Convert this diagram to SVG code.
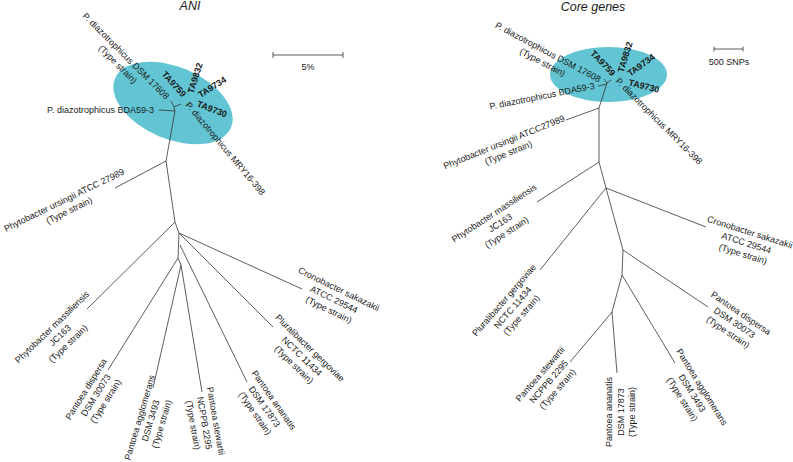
<svg xmlns="http://www.w3.org/2000/svg" width="793" height="462" viewBox="0 0 793 462">
<style>
text{font-family:"Liberation Sans",Arial,sans-serif;font-size:9px;fill:#1a1a1a}
.t{font-size:12.5px;font-style:italic}
.b{font-weight:bold}
.m{text-anchor:middle}
.br{stroke:#333;stroke-width:0.8;fill:none}
.el{fill:#63c5d3}
</style>
<rect width="793" height="462" fill="#fff"/>
<g id="highlights">
<ellipse class="el" cx="173" cy="103" rx="63" ry="36" transform="rotate(23 173 103)"/>
<ellipse class="el" cx="608.5" cy="74.5" rx="58.5" ry="27.5"/>
</g>
<g id="titles">
<text class="t m" x="190" y="10">ANI</text>
<text class="t m" x="593" y="11">Core genes</text>
</g>
<g id="scalebars" class="br">
<path d="M273 55H343M273 52V58M343 52V58"/>
<path d="M714 49H743M714 46.5V51.5M743 46.5V51.5"/>
</g>
<text class="m" x="308" y="70">5%</text>
<text class="m" x="729" y="65">500 SNPs</text>
<g id="connectors" class="br">
<path d="M171 101L174 107L181 104M174 107L175 111M159 110L175 111L166 161L175 222L179 233L178 258L181 265"/>
<path d="M166 161L115 188"/>
<path d="M175 222L87 309"/>
<path d="M179 233L302 289"/>
<path d="M180 234L273 327"/>
<path d="M180 245L247 382"/>
<path d="M178 258L108 370"/>
<path d="M181 265L153 388"/>
<path d="M181 265L202 392"/>
<path d="M604 79L607 83L611 80M598 86L607 84M607 83L599 108L599 162L606 188L623 250L622 275L612 312"/>
<path d="M566 120L599 108"/>
<path d="M599 162L537 202"/>
<path d="M606 188L540 270"/>
<path d="M606 188L706 227"/>
<path d="M623 250L708 307"/>
<path d="M612 312L570 362"/>
<path d="M612 312L617 373"/>
<path d="M622 275L675 363"/>
</g>
<g id="ani-bda"><text x="154" y="113" text-anchor="end">P. diazotrophicus BDA59-3</text></g>
<g id="ani-dsm17608" transform="translate(126 56) rotate(45)"><text class="m" y="3.2">P. diazotrophicus DSM 17608</text><text class="m" y="14.7">(Type strain)</text></g>
<g id="ani-ta9759" transform="translate(174 84) rotate(48)"><text class="m b" y="3.2">TA9759</text></g>
<g id="ani-ta9832" transform="translate(195 78) rotate(-72)"><text class="m b" y="3.2">TA9832</text></g>
<g id="ani-ta9734" transform="translate(212 87) rotate(-32)"><text class="m b" y="3.2">TA9734</text></g>
<g id="ani-ta9730" transform="translate(212 109) rotate(21)"><text class="m b" y="3.2">TA9730</text></g>
<g id="ani-mry" transform="translate(225.5 148.5) rotate(50)"><text class="m" y="3.2">P. diazotrophicus MRY16-398</text></g>
<g id="ani-ursingii" transform="translate(64 200) rotate(-26)"><text class="m" y="3.2">Phytobacter ursingii ATCC 27989</text><text class="m" y="14.7">(Type strain)</text></g>
<g id="ani-massiliensis" transform="translate(52 327) rotate(-44)"><text class="m" y="3.2">Phytobacter massiliensis</text><text class="m" y="14.7">JC163</text><text class="m" y="26.2">(Type strain)</text></g>
<g id="ani-dispersa" transform="translate(86 389) rotate(-58)"><text class="m" y="3.2">Pantoea dispersa</text><text class="m" y="14.7">DSM 30073</text><text class="m" y="26.2">(Type strain)</text></g>
<g id="ani-agglomerans" transform="translate(139.5 417.5) rotate(-73.6)"><text class="m" y="3.2">Pantoea agglomerans</text><text class="m" y="14.7">DSM 3493</text><text class="m" y="26.2">(Type strain)</text></g>
<g id="ani-stewartii" transform="translate(216 421) rotate(80)"><text class="m" y="3.2">Pantoea stewartii</text><text class="m" y="14.7">NCPPB 2295</text><text class="m" y="26.2">(Type strain)</text></g>
<g id="ani-ananatis" transform="translate(274 400) rotate(55)"><text class="m" y="3.2">Pantoea ananatis</text><text class="m" y="14.7">DSM 17873</text><text class="m" y="26.2">(Type strain)</text></g>
<g id="ani-pluralibacter" transform="translate(310 348) rotate(44)"><text class="m" y="3.2">Pluralibacter gergoviae</text><text class="m" y="14.7">NCTC 11434</text><text class="m" y="26.2">(Type strain)</text></g>
<g id="ani-cronobacter" transform="translate(339 289) rotate(26)"><text class="m" y="3.2">Cronobacter sakazakii</text><text class="m" y="14.7">ATCC 29544</text><text class="m" y="26.2">(Type strain)</text></g>
<g id="core-dsm17608" transform="translate(548 52) rotate(28)"><text class="m" y="3.2">P. diazotrophicus DSM 17608</text><text class="m" y="14.7">(Type strain)</text></g>
<g id="core-bda" transform="translate(542 96) rotate(-11.3)"><text class="m" y="3.2">P. diazotrophicus BDA59-3</text></g>
<g id="core-ta9759" transform="translate(603 63) rotate(46)"><text class="m b" y="3.2">TA9759</text></g>
<g id="core-ta9832" transform="translate(625 57) rotate(-73)"><text class="m b" y="3.2">TA9832</text></g>
<g id="core-ta9734" transform="translate(641 65) rotate(-36)"><text class="m b" y="3.2">TA9734</text></g>
<g id="core-ta9730" transform="translate(644 86) rotate(14)"><text class="m b" y="3.2">TA9730</text></g>
<g id="core-mry" transform="translate(659 121) rotate(45)"><text class="m" y="3.2">P. diazotrophicus MRY16-398</text></g>
<g id="core-ursingii" transform="translate(504 142) rotate(-22)"><text class="m" y="3.2">Phytobacter ursingii ATCC27989</text><text class="m" y="14.7">(Type strain)</text></g>
<g id="core-massiliensis" transform="translate(494 213) rotate(-33)"><text class="m" y="3.2">Phytobacter massiliensis</text><text class="m" y="14.7">JC163</text><text class="m" y="26.2">(Type strain)</text></g>
<g id="core-pluralibacter" transform="translate(504 300) rotate(-49)"><text class="m" y="3.2">Pluralibacter gergoviae</text><text class="m" y="14.7">NCTC 11434</text><text class="m" y="26.2">(Type strain)</text></g>
<g id="core-cronobacter" transform="translate(750 232) rotate(17.6)"><text class="m" y="3.2">Cronobacter sakazakii</text><text class="m" y="14.7">ATCC 29544</text><text class="m" y="26.2">(Type strain)</text></g>
<g id="core-dispersa" transform="translate(741 313) rotate(34)"><text class="m" y="3.2">Pantoea dispersa</text><text class="m" y="14.7">DSM 30073</text><text class="m" y="26.2">(Type strain)</text></g>
<g id="core-stewartii" transform="translate(540 374) rotate(-49)"><text class="m" y="3.2">Pantoea stewartii</text><text class="m" y="14.7">NCPPB 2295</text><text class="m" y="26.2">(Type strain)</text></g>
<g id="core-ananatis" transform="translate(609 412) rotate(-90)"><text class="m" y="3.2">Pantoea ananatis</text><text class="m" y="14.7">DSM 17873</text><text class="m" y="26.2">(Type strain)</text></g>
<g id="core-agglomerans" transform="translate(702 387) rotate(58)"><text class="m" y="3.2">Pantoea agglomerans</text><text class="m" y="14.7">DSM 3493</text><text class="m" y="26.2">(Type strain)</text></g>
</svg>
